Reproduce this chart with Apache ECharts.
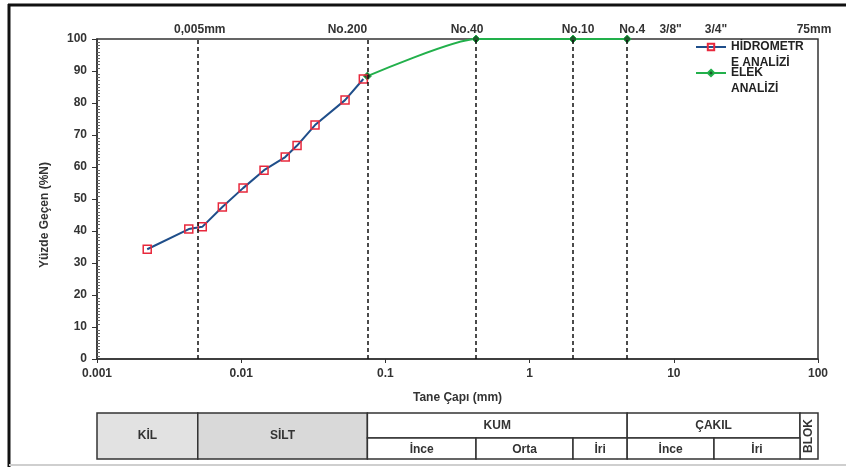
<!DOCTYPE html>
<html>
<head>
<meta charset="utf-8">
<script src="https://cdn.jsdelivr.net/npm/echarts@6/dist/echarts.min.js"></script>
<style>
  html, body { margin: 0; padding: 0; background: #fff; }
  #chart { width: 846px; height: 467px; }
</style>
</head>
<body>
<div id="chart"></div>
<script>
// Hydrometer analysis: grain diameter (mm) and percent passing
const hydroSize = [0.00223, 0.00433, 0.00537, 0.0074, 0.0103, 0.0144, 0.0202, 0.0244, 0.0325, 0.0525, 0.0703];
const hydroPass = [34.3, 40.6, 41.3, 47.5, 53.4, 59.0, 63.1, 66.7, 73.1, 80.9, 87.5];

// Sieve analysis: sieve opening (mm) and percent passing
const sieveSize = [0.075, 0.425, 2.0, 4.75];
const sievePass = [88.4, 100, 100, 100];

// Axis tick labels
const xTickLabels = ['0.001', '0.01', '0.1', '1', '10', '100'];
const yTickLabels = ['0', '10', '20', '30', '40', '50', '60', '70', '80', '90', '100'];

// Dashed reference lines (mm)
const guideSizes = [0.005, 0.075, 0.425, 2.0, 4.75];

// Captions above the plot and the sizes they refer to
const topCaptions = ['0,005mm', 'No.200', 'No.40', 'No.10', 'No.4', '3/8"', '3/4"', '75mm'];
const topCaptionSizes = [0.005, 0.075, 0.425, 2.0, 4.75, 9.5, 19, 75];

// Soil classes under the axis
const mainClasses = ['KİL', 'SİLT', 'KUM', 'ÇAKIL', 'BLOK'];
const mainBounds = [0.001, 0.005, 0.075, 4.75, 75, 100];
const subClasses = ['İnce', 'Orta', 'İri', 'İnce', 'İri'];
const subBounds = [0.075, 0.425, 2.0, 4.75, 19, 75];

const seriesNames = ['HİDROMETRE ANALİZİ', 'ELEK ANALİZİ'];
// legend names broken over two lines; the leading blank line keeps the icon level with the first line
const legendText = { 'HİDROMETRE ANALİZİ': '\nHİDROMETR\nE ANALİZİ', 'ELEK ANALİZİ': '\nELEK\nANALİZİ' };

// ---- layout / style ----
const FONT = '"Liberation Sans", Arial, sans-serif';
const captionDx = [2, -20, -9, 5, 5, 0, 2, 14];
const TABLE_TOP = 413, TABLE_MID = 438, TABLE_BOT = 459;
const classFill = { 'KİL': '#e2e2e2', 'SİLT': '#d9d9d9' };

const chart = echarts.init(document.getElementById('chart'), null, { renderer: 'canvas' });

const boldText = (size) => ({ fontFamily: FONT, fontWeight: 'bold', fontSize: size, color: '#333' });

chart.setOption({
  animation: false,
  backgroundColor: '#fff',
  grid: {
    left: 97, right: 28, top: 39, bottom: 108,
    show: true, borderColor: '#333', borderWidth: 1.5, backgroundColor: 'transparent'
  },
  legend: {
    data: seriesNames,
    orient: 'vertical',
    left: 695, top: 23, padding: 0,
    itemWidth: 30, itemHeight: 8, itemGap: -22,
    formatter: (n) => legendText[n],
    textStyle: { fontFamily: FONT, fontWeight: 'bold', fontSize: 12, color: '#222', lineHeight: 16 }
  },
  xAxis: {
    type: 'log', logBase: 10, min: 0.001, max: 100,
    axisLine: { show: true, lineStyle: { color: '#333', width: 1.5 } },
    axisTick: { show: true, length: 4, lineStyle: { color: '#333' } },
    axisLabel: {
      ...boldText(12), margin: 9,
      formatter: (v) => xTickLabels[Math.round(Math.log10(v)) + 3]
    },
    splitLine: { show: false },
    minorTick: { show: false },
    name: 'Tane Çapı (mm)', nameLocation: 'middle', nameGap: 33,
    nameTextStyle: boldText(12)
  },
  yAxis: [
    {
      type: 'value', min: 0, max: 100, interval: 10,
      axisLine: { show: true, lineStyle: { color: '#333', width: 1.5 } },
      axisTick: { show: true, length: 5, lineStyle: { color: '#333' } },
      axisLabel: { ...boldText(12), margin: 10, formatter: (v) => yTickLabels[Math.round(v / 10)] },
      splitLine: { show: false }
    },
    {
      type: 'value', min: 0, max: 100, interval: 10, position: 'left',
      axisLine: { show: false },
      axisTick: { show: false, inside: true },
      minorTick: { show: true, splitNumber: 10, length: 3, lineStyle: { color: '#666', width: 1 } },
      axisLabel: { show: false },
      splitLine: { show: false }
    }
  ],
  series: [
    {
      name: seriesNames[0], type: 'line',
      data: hydroSize.map((s, i) => [s, hydroPass[i]]),
      lineStyle: { color: '#1f4e8a', width: 2 },
      symbol: 'rect', symbolSize: 8,
      itemStyle: { color: 'rgba(255,255,255,0)', borderColor: '#e8283c', borderWidth: 1.5 },
      z: 4
    },
    {
      name: seriesNames[1], type: 'line',
      data: sieveSize.map((s, i) => [s, sievePass[i]]),
      smooth: 0.2, smoothMonotone: 'x',
      lineStyle: { color: '#22b04b', width: 2 },
      symbol: 'diamond', symbolSize: 8,
      itemStyle: { color: '#1d5a2c', borderColor: '#22b04b', borderWidth: 1 },
      z: 3,
      markLine: {
        silent: true, symbol: ['none', 'none'], precision: 6, label: { show: false },
        lineStyle: { color: '#111', type: [4, 3], width: 1.5 },
        data: guideSizes.map((v) => ({ xAxis: v }))
      }
    }
  ]
});

// Captions, axis title, classification table and frame, positioned from the x scale
function drawOverlay() {
  const px = (v) => chart.convertToPixel({ xAxisIndex: 0 }, v);
  const g = [];

  topCaptions.forEach((t, i) => {
    g.push({
      type: 'text', x: px(topCaptionSizes[i]) + captionDx[i], y: 30,
      style: { text: t, ...boldText(12), fill: '#333', align: 'center', verticalAlign: 'middle' }
    });
  });

  g.push({
    type: 'text', x: 45, y: 215, rotation: Math.PI / 2,
    style: { text: 'Yüzde Geçen (%N)', ...boldText(12), fill: '#333', align: 'center', verticalAlign: 'middle' }
  });

  const cell = (x0, x1, y0, y1, fill) => ({
    type: 'rect', shape: { x: x0, y: y0, width: x1 - x0, height: y1 - y0 },
    style: { fill: fill || '#fff', stroke: '#333', lineWidth: 1.5 }
  });
  const label = (text, x, y, rot) => ({
    type: 'text', x, y, rotation: rot || 0,
    style: { text, ...boldText(12), fill: '#333', align: 'center', verticalAlign: 'middle' }
  });

  mainClasses.forEach((name, i) => {
    const x0 = px(mainBounds[i]), x1 = px(mainBounds[i + 1]);
    const split = name === 'KUM' || name === 'ÇAKIL';
    g.push(cell(x0, x1, TABLE_TOP, split ? TABLE_MID : TABLE_BOT, classFill[name]));
    if (name === 'BLOK') {
      g.push(label(name, (x0 + x1) / 2, (TABLE_TOP + TABLE_BOT) / 2, Math.PI / 2));
    } else {
      g.push(label(name, (x0 + x1) / 2, split ? (TABLE_TOP + TABLE_MID) / 2 : (TABLE_TOP + TABLE_BOT) / 2));
    }
  });
  subClasses.forEach((name, i) => {
    const x0 = px(subBounds[i]), x1 = px(subBounds[i + 1]);
    g.push(cell(x0, x1, TABLE_MID, TABLE_BOT));
    g.push(label(name, (x0 + x1) / 2, (TABLE_MID + TABLE_BOT) / 2 + 1));
  });

  // page frame
  g.push({ type: 'line', shape: { x1: 8, y1: 5, x2: 846, y2: 5 }, style: { stroke: '#111', lineWidth: 3 } });
  g.push({ type: 'line', shape: { x1: 9, y1: 4, x2: 9, y2: 467 }, style: { stroke: '#111', lineWidth: 3 } });
  g.push({ type: 'line', shape: { x1: 9, y1: 465, x2: 846, y2: 465 }, style: { stroke: '#cfcfcf', lineWidth: 2 } });

  chart.setOption({ graphic: g });
}
drawOverlay();
</script>
</body>
</html>
